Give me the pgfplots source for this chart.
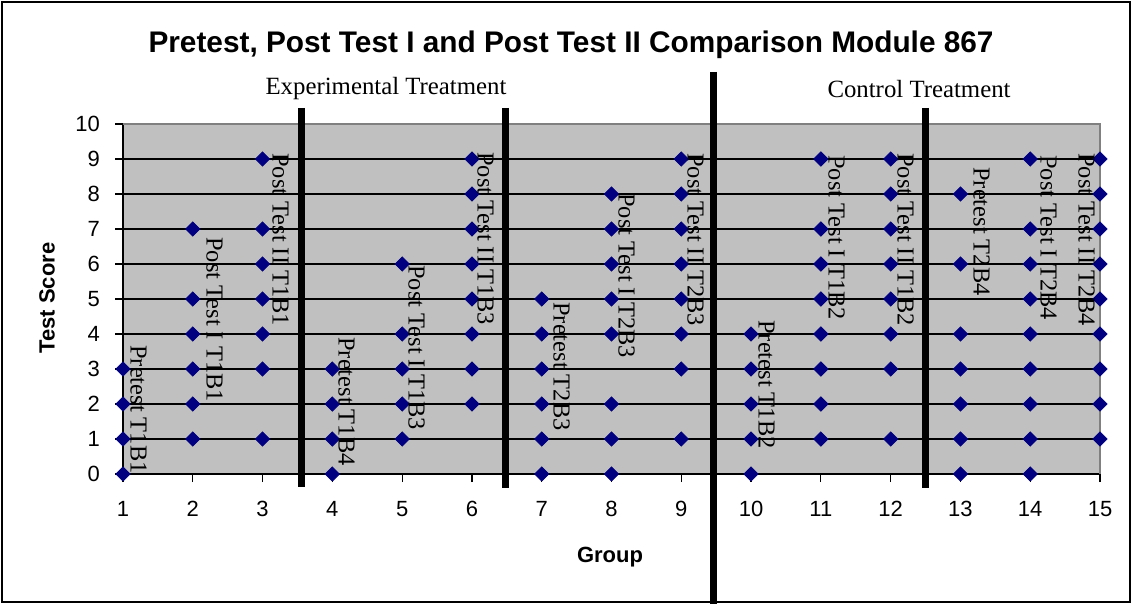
\documentclass[border=0pt]{standalone}
\usepackage{pgfplots}
\pgfplotsset{compat=1.18}
\usepackage{fontspec}
\setmainfont{Liberation Serif}
\newfontfamily\arial{Liberation Sans}
\definecolor{plotgray}{HTML}{C0C0C0}
\definecolor{bordergray}{HTML}{808080}
\definecolor{navy}{HTML}{000080}
\begin{document}
\begin{tikzpicture}
\path[use as bounding box] (0pt,0pt) rectangle (566.5pt,-302pt);
\begin{axis}[
  at={(61.5pt,-237pt)}, anchor=south west,
  scale only axis, width=488.5pt, height=175pt,
  xmin=1, xmax=15, ymin=0, ymax=10,
  xtick={1,...,15}, ytick={0,...,10},
  axis x line*=bottom, axis y line*=left,
  axis line style={black,-, line width=0.6pt},
  axis background/.style={fill=plotgray},
  ymajorgrids, grid style={black, line width=0.6pt},
  tick align=outside, major tick length=4pt,
  tick style={black, line width=0.6pt},
  clip=false,
  /pgf/number format/assume math mode=true,
  tick label style={font=\arial\fontsize{11}{13}\selectfont},
  xticklabel style={yshift=-6pt},
  yticklabel style={xshift=-4pt},
  xlabel={Group}, ylabel={Test Score},
  label style={font=\arial\bfseries\fontsize{11}{13}\selectfont},
  xlabel style={at={(rel axis cs:0.4985,-0.236)}, anchor=center},
  ylabel style={at={(rel axis cs:-0.0778,0.503)}, anchor=center, rotate=0},
  title={Pretest, Post Test I and Post Test II Comparison Module 867},
  title style={font=\arial\bfseries\fontsize{14.9}{17}\selectfont, at={(rel axis cs:0.4586,1.231)}, anchor=center, yshift=-7pt},
]
\addplot[only marks, mark=square*, mark size=2.5pt, mark options={rotate=45, fill=navy, draw=navy}] coordinates {
 (1,0) (1,1) (1,2) (1,3)
 (2,1) (2,2) (2,3) (2,4) (2,5) (2,7)
 (3,1) (3,3) (3,4) (3,5) (3,6) (3,7) (3,9)
 (4,0) (4,1) (4,2) (4,3)
 (5,1) (5,2) (5,3) (5,4) (5,6)
 (6,2) (6,3) (6,4) (6,5) (6,6) (6,7) (6,8) (6,9)
 (7,0) (7,1) (7,2) (7,3) (7,4) (7,5)
 (8,0) (8,1) (8,2) (8,4) (8,5) (8,6) (8,7) (8,8)
 (9,1) (9,3) (9,4) (9,5) (9,6) (9,7) (9,8) (9,9)
 (10,0) (10,1) (10,2) (10,3) (10,4)
 (11,1) (11,2) (11,3) (11,4) (11,5) (11,6) (11,7) (11,9)
 (12,1) (12,3) (12,4) (12,5) (12,6) (12,7) (12,8) (12,9)
 (13,0) (13,1) (13,2) (13,3) (13,4) (13,6) (13,8)
 (14,0) (14,1) (14,2) (14,3) (14,4) (14,5) (14,6) (14,7) (14,9)
 (15,1) (15,2) (15,3) (15,4) (15,5) (15,6) (15,7) (15,8) (15,9)
};
\draw[bordergray, line width=0.6pt] (rel axis cs:0,1) -- (rel axis cs:1,1) -- (rel axis cs:1,0);
\end{axis}
\begin{scope}[x=0.5pt, y=-0.5pt]
  \draw[black, line width=0.8pt] (2,2) rectangle (1130,602);
  \foreach \xx/\ya/\yb in {301.7/108/487, 505.7/108/488, 713/72/604, 925/108/488}
    \draw[black, line width=3.5pt] (\xx,\ya) -- (\xx,\yb);
  \node[font=\fontsize{12.4}{14}\selectfont] at (386,89) {Experimental Treatment};
  \node[font=\fontsize{12.4}{14}\selectfont] at (919,89) {Control Treatment};
  \begin{scope}[every node/.style={rotate=-90, anchor=south west, inner sep=0pt, font=\fontsize{12.2}{14}\selectfont}]
    \node at (130,345) {Pretest T1B1};
    \node at (206,237) {Post Test I T1B1};
    \node at (272,153) {Post Test II T1B1};
    \node at (338,337) {Pretest T1B4};
    \node at (408,265) {Post Test I T1B3};
    \node at (477,152) {Post Test II T1B3};
    \node at (553,302) {Pretest T2B3};
    \node at (618,193) {Post Test I T2B3};
    \node at (687,153) {Post Test II T2B3};
    \node at (758,320) {Pretest T1B2};
    \node at (828,155) {Post Test I T1B2};
    \node at (897,153) {Post Test II T1B2};
    \node at (973,167) {Pretest T2B4};
    \node at (1040,155) {Post Test I T2B4};
    \node at (1078,153) {Post Test II T2B4};
  \end{scope}
\end{scope}
\end{tikzpicture}
\end{document}
